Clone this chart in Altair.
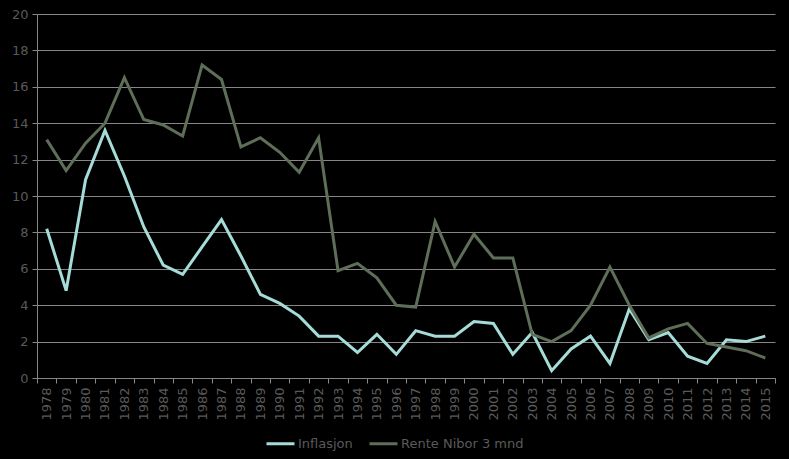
import altair as alt
import pandas as pd

years = [str(y) for y in range(1978, 2016)]
inflasjon = [8.2, 4.8, 10.9, 13.6, 11.1, 8.3, 6.2, 5.7, 7.2, 8.7,
             6.7, 4.6, 4.1, 3.4, 2.3, 2.3, 1.4, 2.4, 1.3, 2.6,
             2.3, 2.3, 3.1, 3.0, 1.3, 2.5, 0.4, 1.6, 2.3, 0.8,
             3.8, 2.1, 2.5, 1.2, 0.8, 2.1, 2.0, 2.3]
rente = [13.1, 11.4, 12.9, 14.0, 16.5, 14.2, 13.9, 13.3, 17.2, 16.4,
         12.7, 13.2, 12.4, 11.3, 13.2, 5.9, 6.3, 5.5, 4.0, 3.9,
         8.6, 6.1, 7.9, 6.6, 6.6, 2.4, 2.0, 2.6, 4.0, 6.1,
         4.0, 2.2, 2.7, 3.0, 1.9, 1.7, 1.5, 1.1]
series_names = ["Inflasjon", "Rente Nibor 3 mnd"]
series_colors = ["#a6dcd8", "#5e6e58"]

rows = []
for i, y in enumerate(years):
    rows.append({"År": y, "Serie": series_names[0], "Verdi": inflasjon[i]})
    rows.append({"År": y, "Serie": series_names[1], "Verdi": rente[i]})
df = pd.DataFrame(rows)

font = "DejaVu Sans"
txt = "#5a5a5a"
grid = "#868686"

chart = alt.Chart(df).mark_line(strokeWidth=3).encode(
    x=alt.X("År:N", sort=years,
            scale=alt.Scale(paddingInner=0, paddingOuter=0),
            axis=alt.Axis(title=None, labelAngle=-90, tickBand="extent",
                          labelFontSize=13, labelColor=txt, labelFont=font,
                          domainColor=grid, tickColor=grid, tickSize=5,
                          labelPadding=4, grid=False)),
    y=alt.Y("Verdi:Q", scale=alt.Scale(domain=[0, 20]),
            axis=alt.Axis(title=None, values=list(range(0, 21, 2)),
                          labelFontSize=13, labelColor=txt, labelFont=font,
                          domainColor=grid, tickColor=grid, tickSize=5,
                          gridColor=grid, gridWidth=1, labelPadding=4)),
    color=alt.Color("Serie:N", sort=series_names,
                    scale=alt.Scale(domain=series_names, range=series_colors),
                    legend=alt.Legend(title=None, orient="none", legendX=228,
                                      legendY=414, direction="horizontal",
                                      symbolType="stroke", symbolStrokeWidth=3,
                                      symbolSize=784, labelFontSize=13,
                                      labelOffset=2,
                                      labelColor=txt, labelFont=font,
                                      columnPadding=10)),
).properties(
    width=738, height=364,
    autosize=alt.AutoSizeParams(type="none"),
    padding={"left": 37, "top": 14, "right": 14, "bottom": 81},
    background="#000000",
).configure_view(stroke=None)

chart.save("out.html", embed_options={"renderer": "svg", "actions": False})
